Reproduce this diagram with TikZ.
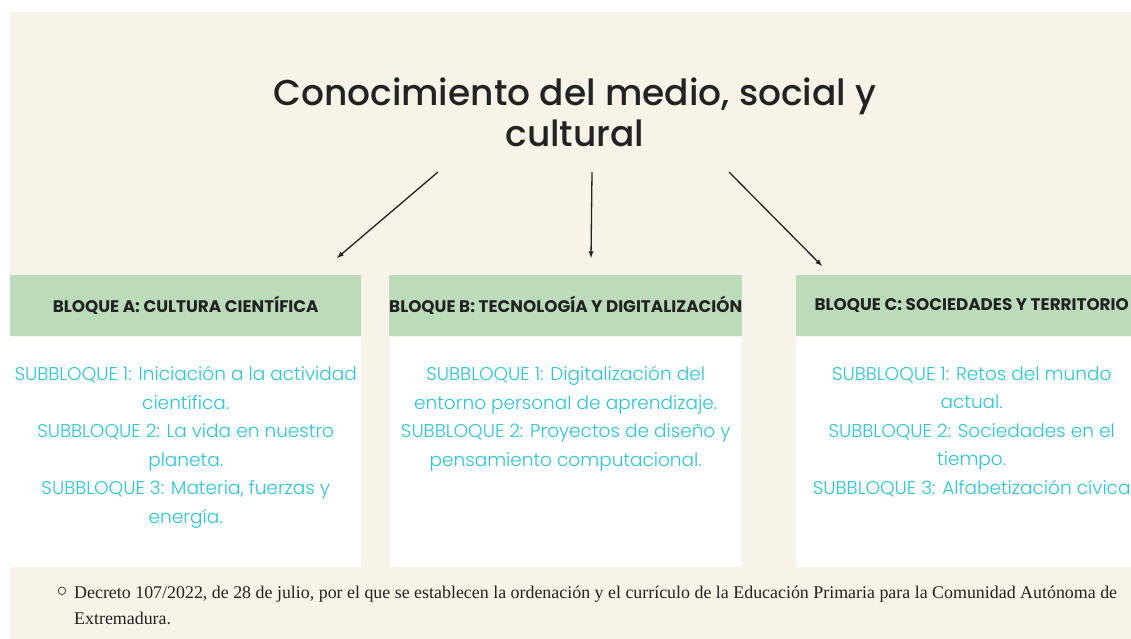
\documentclass[tikz,border=0pt]{standalone}
\usepackage{fontspec}
\setmainfont{Liberation Serif}
\newfontfamily\titlefont{Poppins Medium}
\newfontfamily\headfont{Poppins}
\newfontfamily\subfont{Poppins Light}
\usetikzlibrary{positioning}
\definecolor{fondo}{HTML}{F7F3E8}
\definecolor{verde}{HTML}{BBDBBB}
\definecolor{cian}{HTML}{2CC5D6}
\definecolor{tinta}{HTML}{222222}
\tikzset{
  bloque/.style={fill=verde, text=tinta, minimum width=351pt, minimum height=61pt,
    inner sep=0pt, anchor=north west, font=\headfont\bfseries\fontsize{16.8}{18}\selectfont},
  caja/.style={fill=white, minimum width=351pt, minimum height=230pt, inner sep=0pt},
  sub/.style={align=center, text=cian, inner sep=0pt, font=\subfont\fontsize{18.5}{28.5}\selectfont}
}
\begin{document}
\begin{tikzpicture}[x=1pt,y=-1pt,>=latex]
\useasboundingbox (0,0) rectangle (1131,639);
\fill[fondo] (10,12) rectangle (1131,639);
\node[align=center, text=tinta, font=\titlefont\fontsize{36}{41}\selectfont] (titulo) at (575,112)
  {Conocimiento del medio, social y\\cultural};
% bloques
\node[bloque] (bloqueA) at (10,275) {BLOQUE A: CULTURA CIENTÍFICA};
\node[bloque] (bloqueB) at (389,275) {BLOQUE B: TECNOLOGÍA Y DIGITALIZACIÓN};
\node[bloque] (bloqueC) at (796,275) {BLOQUE C: SOCIEDADES Y TERRITORIO};
\foreach \b in {A,B,C}
{
    \node[caja, below=0pt of bloque\b] (caja\b) {};
}
\node[sub, below=30pt of bloqueA] (subA) {SUBBLOQUE 1: Iniciación a la actividad\\científica.\\
  SUBBLOQUE 2: La vida en nuestro\\planeta.\\SUBBLOQUE 3: Materia, fuerzas y\\energía.};
\node[sub, below=30pt of bloqueB] (subB) {SUBBLOQUE 1: Digitalización del\\entorno personal de aprendizaje.\\
  SUBBLOQUE 2: Proyectos de diseño y\\pensamiento computacional.};
\node[sub, below=30pt of bloqueC] (subC) {SUBBLOQUE 1: Retos del mundo\\actual.\\
  SUBBLOQUE 2: Sociedades en el\\tiempo.\\SUBBLOQUE 3: Alfabetización cívica};
% flechas
\coordinate (iniA) at (438,172); \coordinate (finA) at (337,258);
\coordinate (iniB) at (592,172); \coordinate (finB) at (591,258);
\coordinate (iniC) at (729,172); \coordinate (finC) at (822,266);
\foreach \b in {A,B,C}
{
    \draw[->, tinta, line width=1.3pt] (ini\b)--(fin\b);
}
% referencia
\node[text=tinta, font=\fontsize{22}{22}\selectfont] (punto) at (62,592) {$\circ$};
\node[anchor=north west, align=left, inner sep=0pt, text=tinta, font=\fontsize{17.9}{26}\selectfont] (decreto) at (74,586)
  {Decreto 107/2022, de 28 de julio, por el que se establecen la ordenación y el currículo de la Educación Primaria para la Comunidad Autónoma de\\Extremadura.};
\end{tikzpicture}
\end{document}
